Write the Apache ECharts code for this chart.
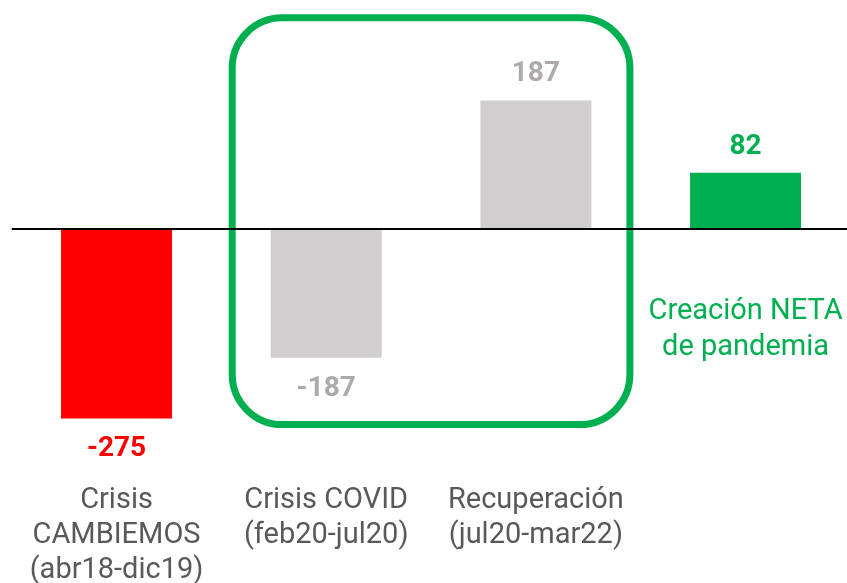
<!DOCTYPE html>
<html>
<head>
<meta charset="utf-8">
<script src="https://cdn.jsdelivr.net/npm/echarts@6/dist/echarts.min.js"></script>
<style>html,body{margin:0;padding:0;background:#fff;}#c{width:847px;height:583px;}</style>
</head>
<body>
<div id="c"></div>
<script>
const categories = ['Crisis\nCAMBIEMOS\n(abr18-dic19)', 'Crisis COVID\n(feb20-jul20)', 'Recuperación\n(jul20-mar22)', ''];
const values = [-275, -187, 187, 82];
const barColors = ['#ff0000', '#d0cece', '#d0cece', '#00b050'];
const labelColors = ['#ff0000', '#aeaaaa', '#aeaaaa', '#00b050'];
const noteText = 'Creación NETA\nde pandemia';
const boxRange = { fromCat: 1, toCat: 2, top: 307, bottom: -284 };

const FONT = 'Roboto';
const chart = echarts.init(document.getElementById('c'));
const option = {
  animation: false,
  grid: { left: 11.7, right: -3.4, top: 2, bottom: 113, containLabel: false, outerBoundsMode: 'none' },
  xAxis: {
    type: 'category',
    data: categories,
    position: 'bottom',
    axisLine: { show: false, onZero: false },
    axisTick: { show: false },
    axisLabel: { color: '#595959', fontFamily: FONT, fontSize: 29, lineHeight: 35, margin: 13, interval: 0 }
  },
  yAxis: {
    type: 'value', min: -350, max: 330,
    show: false,
    splitLine: { show: false }
  },
  series: [{
    type: 'bar',
    barWidth: 111,
    data: values.map((v, i) => ({
      value: v,
      itemStyle: { color: barColors[i] },
      label: {
        show: true,
        position: v >= 0 ? 'top' : 'bottom',
        distance: v >= 0 ? 12 : 17,
        color: labelColors[i],
        fontFamily: FONT, fontSize: 28, fontWeight: 'bold'
      }
    })),
    markLine: {
      silent: true, symbol: 'none',
      label: { show: false },
      lineStyle: { color: '#000', width: 2, type: 'solid' },
      data: [{ yAxis: 0 }]
    }
  }]
};
chart.setOption(option);

const cx = (i) => chart.convertToPixel({ xAxisIndex: 0 }, i);
const py = (v) => chart.convertToPixel({ yAxisIndex: 0 }, v);
const half = 94;
const x1 = cx(boxRange.fromCat) - half, x2 = cx(boxRange.toCat) + half;
const y1 = py(boxRange.top), y2 = py(boxRange.bottom);
chart.setOption({
  graphic: [
    {
      type: 'rect', silent: true,
      shape: { x: x1, y: y1, width: x2 - x1, height: y2 - y1, r: 50 },
      style: { fill: 'none', stroke: '#00b050', lineWidth: 7 }
    },
    {
      type: 'text', silent: true,
      x: cx(3), y: py(0) + 65,
      style: {
        text: noteText, fill: '#00b050', font: '29px Roboto',
        lineHeight: 36, align: 'center', verticalAlign: 'top'
      }
    }
  ]
});
</script>
</body>
</html>
